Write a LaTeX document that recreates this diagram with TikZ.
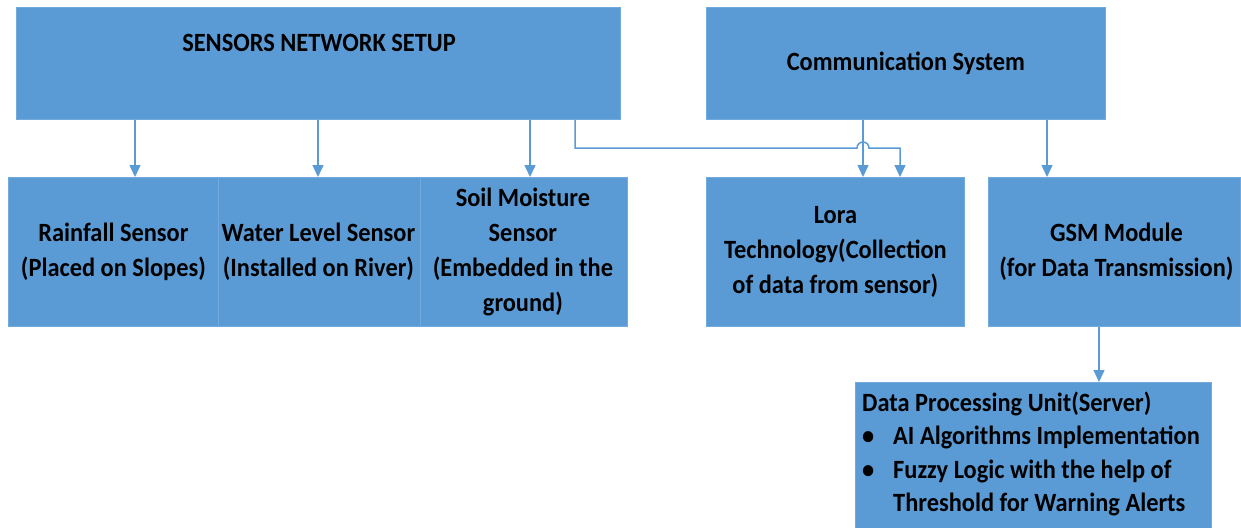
\documentclass[tikz,border=0pt]{standalone}
\usepackage{fontspec}
\setmainfont{Carlito}
\usepackage{graphicx}
\usetikzlibrary{arrows.meta,calc}
\definecolor{boxblue}{HTML}{5B9BD5}
\definecolor{edgeblue}{HTML}{72AADD}
\definecolor{lineblue}{HTML}{5B9BD5}
\newcommand{\boxtext}[2][c]{\scalebox{1}[1.08]{\begin{tabular}{@{}#1@{}}#2\end{tabular}}}
\begin{document}
\begin{tikzpicture}[x=1pt,y=-1pt,
  box/.style={fill=boxblue,draw=edgeblue,line width=0.8pt,inner sep=0pt,anchor=north west},
  txt/.style={inner sep=0pt,font=\fontsize{24.4}{32.4}\selectfont\bfseries},
  conn/.style={draw=lineblue,line width=1.5pt},
  arr/.style={conn,-{Triangle[length=12pt,width=11pt]}}]
\useasboundingbox (0,0) rectangle (1241,527);
\clip (0,0) rectangle (1241,527);
% boxes
\node[box,minimum width=604pt,minimum height=112pt] (snet) at (16,7) {};
\node[txt] (snettext) at (319,45) {\boxtext{SENSORS NETWORK SETUP}};
\node[box,minimum width=210pt,minimum height=149pt] (rain) at (8,177) {};
\node[box,minimum width=202pt,minimum height=149pt] (water) at (218,177) {};
\node[box,minimum width=207pt,minimum height=149pt] (soil) at (420,177) {};
\node[txt] at (rain.center) {\boxtext{Rainfall Sensor\\(Placed on Slopes)}};
\node[txt] at ([xshift=-1pt]water.center) {\boxtext{Water Level Sensor\\(Installed on River)}};
\node[txt] at ([xshift=-1pt]soil.center) {\boxtext{Soil Moisture\\Sensor\\(Embedded in the\\ground)}};
\node[box,minimum width=399pt,minimum height=112pt] (comm) at (706,7) {};
\node[txt] at (comm.center) {\boxtext{Communication System}};
\node[box,minimum width=258pt,minimum height=149pt] (lora) at (706,177) {};
\node[txt] at (lora.center) {\boxtext{Lora\\Technology(Collection\\of data from sensor)}};
\node[box,minimum width=252pt,minimum height=149pt] (gsm) at (988,177) {};
\node[txt] at ([xshift=2pt]gsm.center) {\boxtext{GSM Module\\(for Data Transmission)}};
\node[box,minimum width=356pt,minimum height=160pt] (dpu) at (855,382) {};
\node[txt,anchor=west,font=\fontsize{24.4}{31}\selectfont\bfseries] (dputext) at (862,455)
  {\boxtext[l]{Data Processing Unit(Server)\\
  \makebox[31pt][l]{\textbullet}AI Algorithms Implementation\\
  \makebox[31pt][l]{\textbullet}Fuzzy Logic with the help of\\
  \hspace*{31pt}Threshold for Warning Alerts}};
% connector coordinates
\coordinate (x1) at (135,0);
\coordinate (x2) at (318,0);
\coordinate (x3) at (530,0);
\coordinate (xa) at (575,0);
\coordinate (xl1) at (863,0);
\coordinate (xl2) at (900,0);
\coordinate (xg) at (1047,0);
\coordinate (xd) at (1099,0);
\coordinate (hy) at (0,148);
% connectors
\draw[arr] (snet.south -| x1) -- (rain.north -| x1);
\draw[arr] (snet.south -| x2) -- (water.north -| x2);
\draw[arr] (snet.south -| x3) -- (soil.north -| x3);
\draw[arr] (comm.south -| xl1) -- (lora.north -| xl1);
\draw[arr] (snet.south -| xa) -- (xa |- hy) -- ($(xl1 |- hy)+(-6,0)$)
  arc[start angle=180,end angle=0,radius=6pt] -- (xl2 |- hy) -- (lora.north -| xl2);
\draw[arr] (comm.south -| xg) -- (gsm.north -| xg);
\draw[arr] (gsm.south -| xd) -- (dpu.north -| xd);
\end{tikzpicture}
\end{document}
